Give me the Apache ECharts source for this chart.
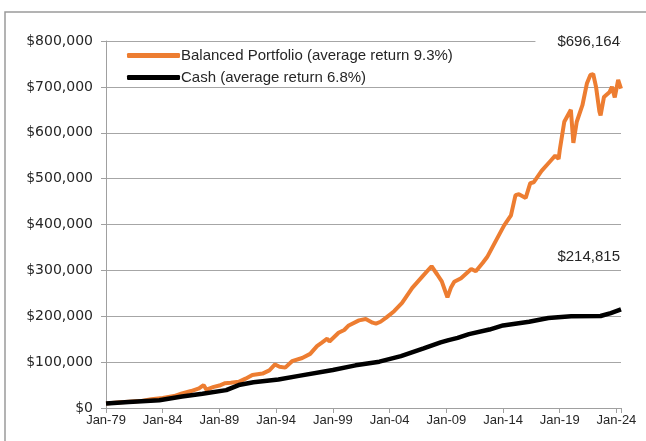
<!DOCTYPE html>
<html>
<head>
<meta charset="utf-8">
<script src="https://cdn.jsdelivr.net/npm/echarts@6/dist/echarts.min.js"></script>
<style>
  html, body { margin: 0; padding: 0; background: #fff; }
  #chart { width: 646px; height: 441px; }
</style>
</head>
<body>
<div id="chart"></div>
<script>
// dates as decimal years, values in dollars
var balancedDates = [1979.0, 1980.0, 1981.0, 1982.0, 1983.0, 1984.0, 1985.0, 1985.7, 1986.5, 1987.2,
    1987.6, 1987.85, 1988.5, 1989.0, 1989.5, 1990.0, 1990.7, 1991.3, 1991.9, 1992.8,
    1993.4, 1993.9, 1994.3, 1994.8, 1995.4, 1996.3, 1997.0, 1997.6, 1998.0, 1998.5,
    1998.7, 1999.5, 2000.0, 2000.4, 2001.3, 2001.9, 2002.5, 2002.8, 2003.2, 2003.7,
    2004.4, 2005.1, 2006.0, 2006.9, 2007.7, 2008.2, 2008.6, 2008.9, 2009.1, 2009.4,
    2009.7, 2010.3, 2011.2, 2011.6, 2012.2, 2012.6, 2013.4, 2014.1, 2014.7, 2015.1,
    2015.4, 2016.0, 2016.4, 2016.7, 2017.4, 2018.2, 2018.6, 2018.9, 2019.0, 2019.4,
    2019.98, 2020.2, 2020.5, 2021.0, 2021.4, 2021.7, 2021.95, 2022.2, 2022.5, 2022.6,
    2022.9, 2023.4, 2023.6, 2023.85, 2024.15, 2024.4];
var balancedValues = [10000, 12000, 13500, 15000, 19000, 22000, 26000, 32000, 37000, 43000,
    50000, 40000, 46000, 49000, 54000, 55000, 57000, 64000, 72000, 75000,
    82000, 95000, 90000, 88000, 102000, 109000, 118000, 135000, 142000, 151000,
    145000, 164000, 170000, 180000, 191000, 194000, 186000, 184000, 188000, 197000,
    211000, 229000, 262000, 287000, 309000, 291000, 276000, 255000, 241000, 262000,
    275000, 283000, 303000, 298000, 316000, 329000, 366000, 398000, 420000, 464000,
    466000, 458000, 490000, 492000, 517000, 539000, 550000, 543000, 562000, 624000,
    650000, 578000, 624000, 660000, 708000, 726000, 728000, 700000, 646000, 638000,
    678000, 689000, 700000, 677000, 715000, 696164];

var cashDates = [1979.0, 1981.0, 1983.7, 1985.7, 1987.5, 1989.6, 1990.7, 1992.0, 1994.2, 1996.0,
    1999.0, 2001.0, 2003.1, 2005.0, 2007.0, 2008.5, 2009.2, 2010.0, 2011.0, 2012.8,
    2014.0, 2016.3, 2018.0, 2020.0, 2022.6, 2023.5, 2024.4];
var cashValues = [10000, 13000, 17000, 25000, 31000, 39000, 50000, 56000, 62000, 70000,
    83000, 93000, 101000, 113000, 130000, 143000, 148000, 153000, 161000, 171000,
    180000, 188000, 196000, 200000, 200500, 207000, 214815];

var seriesNames = ['Balanced Portfolio (average return 9.3%)', 'Cash (average return 6.8%)'];
var endLabels = ['$696,164', '$214,815'];
var startYear = 1979;

function toPoints(dates, values) {
    var pts = [];
    for (var i = 0; i < dates.length; i++) {
        pts.push([dates[i] - startYear, values[i]]);
    }
    return pts;
}

var myChart = echarts.init(document.getElementById('chart'), null, {renderer: 'canvas'});

var fontFam = '"Liberation Sans", Arial, sans-serif';
var wideFam = '"DejaVu Sans", sans-serif';

var option = {
    animation: false,
    backgroundColor: '#fff',
    grid: {left: 106, right: 25, top: 41, bottom: 33},
    legend: {
        orient: 'vertical',
        left: 122,
        top: 43,
        itemWidth: 53,
        itemHeight: 5,
        itemGap: 7,
        icon: 'roundRect',
        textStyle: {color: '#262626', fontSize: 15, fontFamily: fontFam, padding: [0, 0, 0, -4]},
        data: seriesNames
    },
    xAxis: {
        type: 'value',
        min: 0,
        max: 45.4,
        interval: 5,
        axisLine: {lineStyle: {color: '#a0a0a0', width: 1}},
        axisTick: {show: true, length: 5, lineStyle: {color: '#a0a0a0'}},
        splitLine: {show: false},
        axisLabel: {
            color: '#262626',
            fontSize: 13,
            fontFamily: fontFam,
            margin: 6,
            formatter: function (v) {
                if (Math.abs(v % 5) > 0.001) return '';
                var yy = (startYear + v) % 100;
                return 'Jan-' + (yy < 10 ? '0' + yy : yy);
            }
        }
    },
    yAxis: {
        type: 'value',
        min: 0,
        max: 800000,
        interval: 100000,
        axisLine: {show: true, lineStyle: {color: '#a0a0a0', width: 1}},
        axisTick: {show: true, length: 5, lineStyle: {color: '#a0a0a0'}},
        splitLine: {lineStyle: {color: '#a6a6a6', width: 1.2}},
        axisLabel: {
            color: '#262626',
            fontSize: 14,
            fontFamily: wideFam,
            margin: 13,
            formatter: function (v) {
                return '$' + v.toLocaleString('en-US');
            }
        }
    },
    series: [
        {
            name: seriesNames[0],
            type: 'line',
            showSymbol: false,
            color: '#ED7D31',
            lineStyle: {color: '#ED7D31', width: 4},
            data: toPoints(balancedDates, balancedValues)
        },
        {
            name: seriesNames[1],
            type: 'line',
            showSymbol: false,
            color: '#000000',
            lineStyle: {color: '#000000', width: 4.5},
            data: toPoints(cashDates, cashValues)
        }
    ],
    graphic: [
        {
            type: 'rect',
            silent: true,
            shape: {x: 5, y: 12, width: 700, height: 500},
            style: {fill: null, stroke: '#9a9a9a', lineWidth: 1.5}
        },
        {
            type: 'text',
            right: 26,
            top: 32,
            z: 10,
            style: {
                text: endLabels[0], fill: '#262626', fontSize: 15, fontFamily: fontFam,
                backgroundColor: '#fff', padding: [2, 0, 2, 22]
            }
        },
        {
            type: 'text',
            right: 26,
            top: 249,
            z: 10,
            style: {text: endLabels[1], fill: '#262626', fontSize: 15, fontFamily: fontFam}
        }
    ]
};

myChart.setOption(option);
</script>
</body>
</html>
